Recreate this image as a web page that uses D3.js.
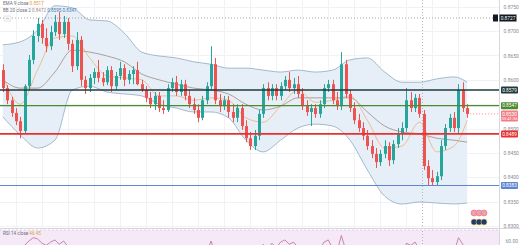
<!DOCTYPE html>
<html>
<head>
<meta charset="utf-8">
<script src="https://cdn.jsdelivr.net/npm/d3@7"></script>
<style>
  html, body { margin: 0; padding: 0; background: #fff; }
  svg { display: block; font-family: Roboto, "Liberation Sans", sans-serif; }
</style>
</head>
<body>
<div id="main"></div>
<script>
// daily candles, left to right
const opens = [
  .8620,.8583,.8558,.8532,.8515,.8495,.8587,.8641,.8690,.8715,
  .8686,.8669,.8698,.8719,.8694,.8719,.8674,.8628,.8682,.8600,
  .8583,.8604,.8616,.8604,.8595,.8620,.8587,.8608,.8624,.8600,
  .8612,.8620,.8591,.8579,.8563,.8550,.8567,.8542,.8538,.8583,
  .8595,.8575,.8591,.8567,.8550,.8538,.8522,.8558,.8587,.8632,
  .8558,.8546,.8558,.8534,.8522,.8542,.8505,.8480,.8464,.8485,
  .8530,.8583,.8567,.8583,.8567,.8587,.8600,.8583,.8591,.8571,
  .8546,.8534,.8542,.8530,.8550,.8583,.8591,.8558,.8546,.8632,
  .8571,.8542,.8517,.8501,.8485,.8464,.8448,.8431,.8448,.8464,
  .8435,.8468,.8489,.8501,.8558,.8542,.8563,.8530,.8423,.8398,
  .8390,.8402,.8464,.8501,.8522,.8501,.8579,.8542];
const highs = [
  .8632,.8589,.8565,.8542,.8524,.8591,.8651,.8702,.8727,.8723,
  .8706,.8711,.8733,.8739,.8731,.8727,.8682,.8698,.8690,.8608,
  .8612,.8624,.8641,.8616,.8628,.8628,.8616,.8637,.8632,.8620,
  .8628,.8637,.8600,.8587,.8575,.8575,.8575,.8558,.8591,.8604,
  .8608,.8600,.8600,.8579,.8563,.8550,.8567,.8595,.8669,.8645,
  .8571,.8567,.8567,.8550,.8550,.8550,.8517,.8493,.8497,.8538,
  .8591,.8595,.8591,.8591,.8595,.8608,.8616,.8604,.8608,.8583,
  .8558,.8550,.8550,.8558,.8591,.8600,.8600,.8575,.8657,.8641,
  .8579,.8554,.8530,.8513,.8497,.8476,.8460,.8456,.8476,.8472,
  .8476,.8501,.8513,.8583,.8575,.8571,.8571,.8538,.8435,.8415,
  .8411,.8476,.8509,.8530,.8534,.8591,.8595,.8550];
const lows = [
  .8575,.8550,.8524,.8507,.8480,.8489,.8579,.8632,.8678,.8674,
  .8657,.8661,.8690,.8682,.8686,.8661,.8616,.8620,.8587,.8571,
  .8575,.8591,.8595,.8587,.8589,.8575,.8579,.8600,.8587,.8591,
  .8591,.8589,.8575,.8554,.8542,.8538,.8534,.8530,.8534,.8575,
  .8567,.8567,.8558,.8542,.8530,.8513,.8517,.8550,.8579,.8550,
  .8534,.8538,.8522,.8513,.8513,.8497,.8472,.8456,.8456,.8476,
  .8522,.8558,.8558,.8558,.8558,.8579,.8575,.8571,.8563,.8538,
  .8526,.8505,.8522,.8522,.8542,.8575,.8550,.8538,.8538,.8563,
  .8534,.8509,.8493,.8476,.8456,.8439,.8419,.8423,.8439,.8423,
  .8427,.8460,.8476,.8493,.8534,.8534,.8522,.8415,.8382,.8382,
  .8382,.8394,.8456,.8493,.8493,.8489,.8534,.8522];
const closes = [
  .8583,.8558,.8532,.8515,.8495,.8587,.8641,.8690,.8715,.8686,
  .8669,.8698,.8719,.8694,.8719,.8674,.8628,.8682,.8600,.8583,
  .8604,.8616,.8604,.8595,.8620,.8587,.8608,.8624,.8600,.8612,
  .8620,.8591,.8579,.8563,.8550,.8567,.8542,.8538,.8583,.8595,
  .8575,.8591,.8567,.8550,.8538,.8522,.8558,.8587,.8632,.8558,
  .8546,.8558,.8534,.8522,.8542,.8505,.8480,.8464,.8485,.8530,
  .8583,.8567,.8583,.8567,.8587,.8600,.8583,.8591,.8571,.8546,
  .8534,.8542,.8530,.8550,.8583,.8591,.8558,.8546,.8632,.8571,
  .8542,.8517,.8501,.8485,.8464,.8448,.8431,.8448,.8464,.8435,
  .8468,.8489,.8501,.8558,.8542,.8563,.8530,.8423,.8398,.8390,
  .8402,.8464,.8501,.8522,.8501,.8579,.8542,.8530];

// indicator readings, taken every 4th candle
const bandIdx = [0,4,8,12,16,20,24,28,32,36,40,44,48,52,56,60,64,68,72,76,80,84,88,92,96,100,104,107];
const bbUpper = [.8672,.8678,.8702,.8752,.8748,.8723,.8721,.8696,.8657,.8649,.8645,.8637,.8632,.8624,
                 .8624,.8620,.8616,.8620,.8616,.8620,.8641,.8645,.8616,.8595,.8595,.8602,.8606,.8595];
const bbBasis = [.8600,.8583,.8583,.8616,.8661,.8657,.8649,.8637,.8612,.8600,.8591,.8583,.8579,.8571,
                 .8550,.8538,.8546,.8563,.8563,.8563,.8563,.8534,.8505,.8493,.8489,.8480,.8476,.8472];
const bbLower = [.8524,.8487,.8460,.8476,.8579,.8587,.8575,.8571,.8567,.8550,.8542,.8534,.8534,.8522,
                 .8476,.8452,.8476,.8501,.8509,.8505,.8476,.8415,.8361,.8345,.8349,.8347,.8345,.8347];
const maLine  = [.8608,.8550,.8620,.8686,.8690,.8645,.8608,.8604,.8600,.8567,.8567,.8558,.8563,.8558,
                 .8522,.8513,.8546,.8579,.8554,.8558,.8567,.8517,.8460,.8464,.8513,.8452,.8464,.8517];

const rsi = [50,45,40,37,33, 56,60,63,62,58,56, 59,61,57,60,55, 48,55,45,43,47,
  50,48,46,52,45,49,52,46,49, 51,45,42,40,38,43,38,37, 47,50,45,48,43,40,38,35,44,50,
  60, 47,44,46,42,40,44,37,33,31,36,45, 57,53,58,54,59,61,57,59,54, 48,45,
  47,45,52,59,61, 53,50, 65, 52,47,42,39,36,33,31,29,32,35,30,38,42,
  45,58,56,59, 52,35,31,30,33,44,50, 55,50,63,57,46.45];

const priceTicks = [0.8300,0.8350,0.8400,0.8450,0.8500,0.8550,0.8600,0.8650,0.8700,0.8750];
const levels = [0.8579, 0.8547, 0.8489, 0.8383];
const alertPrice = 0.8727;
const rsiTicks = [60];
const countdown = '03:41:36';

const W = 520, H = 245, axisX = 499, paneBottom = 228;

const svg = d3.select('#main').append('svg')
  .attr('width', W).attr('height', H);

svg.append('defs').append('clipPath').attr('id', 'mainClip')
  .append('rect').attr('x', 0).attr('y', 0).attr('width', axisX).attr('height', paneBottom);
svg.select('defs').append('clipPath').attr('id', 'rsiClip')
  .append('rect').attr('x', 0).attr('y', paneBottom + 1).attr('width', axisX).attr('height', H - paneBottom);

const x = d3.scaleBand().domain(d3.range(opens.length)).range([0, 470]).padding(0.3);
const cx = i => x(i) + x.bandwidth() / 2;
const y = d3.scaleLinear().domain([0.8300, 0.8750]).range([225.9, 6.8]);
const yr = d3.scaleLinear().domain([60, 70]).range([241, 230]);
const fmt = d3.format('.4f');

// grid
const grid = svg.append('g');
grid.selectAll('line.h').data(priceTicks).enter().append('line')
  .attr('x1', 0).attr('x2', axisX)
  .attr('y1', d => Math.round(y(d)) + 0.5).attr('y2', d => Math.round(y(d)) + 0.5)
  .attr('stroke', '#f0f2f5').attr('stroke-width', 1);
grid.selectAll('line.v').data(d3.range(3, opens.length, 6)).enter().append('line')
  .attr('x1', d => Math.round(cx(d)) + 0.5).attr('x2', d => Math.round(cx(d)) + 0.5)
  .attr('y1', 0).attr('y2', H)
  .attr('stroke', '#f0f2f5').attr('stroke-width', 1);

// RSI pane
const rsiG = svg.append('g').attr('clip-path', 'url(#rsiClip)');
rsiG.append('rect').attr('x', 0).attr('y', yr(70)).attr('width', axisX).attr('height', H - yr(70))
  .attr('fill', '#f5e8f7');
rsiG.append('line').attr('x1', 0).attr('x2', axisX).attr('y1', yr(70)).attr('y2', yr(70))
  .attr('stroke', '#d3b6de').attr('stroke-dasharray', '2,2').attr('stroke-width', 0.6);
rsiG.append('path').datum(rsi)
  .attr('d', d3.line().x((d, i) => cx(i)).y(d => yr(d)))
  .attr('fill', 'none').attr('stroke', '#c07aa8').attr('stroke-width', 0.9);

// main pane
const main = svg.append('g').attr('clip-path', 'url(#mainClip)');

const bandData = bandIdx.map((idx, k) => ({ idx, up: bbUpper[k], mid: bbBasis[k], lo: bbLower[k], ma: maLine[k] }));
main.append('path').datum(bandData)
  .attr('d', d3.area().curve(d3.curveMonotoneX)
    .x(d => cx(d.idx)).y0(d => y(d.lo)).y1(d => y(d.up)))
  .attr('fill', '#e6eff7');
[['up', '#8fa9bf'], ['lo', '#8fa9bf'], ['mid', '#9d8c82'], ['ma', '#eeb07a']].forEach(([k, c]) => {
  main.append('path').datum(bandData)
    .attr('d', d3.line().curve(d3.curveMonotoneX).x(d => cx(d.idx)).y(d => y(d[k])))
    .attr('fill', 'none').attr('stroke', c).attr('stroke-width', 0.8);
});

// alert line
main.append('line').attr('x1', 0).attr('x2', 493)
  .attr('y1', y(alertPrice)).attr('y2', y(alertPrice))
  .attr('stroke', '#8d9099').attr('stroke-width', 0.8).attr('stroke-dasharray', '1,2');

// session break
svg.append('line').attr('x1', 422.5).attr('x2', 422.5).attr('y1', 0).attr('y2', H)
  .attr('stroke', '#a3a6af').attr('stroke-width', 0.8).attr('stroke-dasharray', '1,2');

// candles
const up = '#26a69a', down = '#ef5350';
const candles = main.selectAll('g.c').data(d3.range(opens.length)).enter().append('g');
candles.append('line')
  .attr('x1', i => Math.round(cx(i)) + 0.5).attr('x2', i => Math.round(cx(i)) + 0.5)
  .attr('y1', i => y(highs[i])).attr('y2', i => y(lows[i]))
  .attr('stroke', i => closes[i] >= opens[i] ? up : down).attr('stroke-width', 1);
candles.append('rect')
  .attr('x', i => Math.round(cx(i)) - 1)
  .attr('width', 3)
  .attr('y', i => y(Math.max(opens[i], closes[i])))
  .attr('height', i => Math.max(1, Math.abs(y(opens[i]) - y(closes[i]))))
  .attr('fill', i => closes[i] >= opens[i] ? up : down);

// horizontal levels
const levelColors = ['#213a3c', '#4c8a2f', '#e8302f', '#5d86d0'];
const levelWidths = [1.6, 1.4, 1.8, 1.2];
levels.forEach((p, k) => {
  svg.append('line').attr('x1', 0).attr('x2', axisX).attr('y1', y(p)).attr('y2', y(p))
    .attr('stroke', levelColors[k]).attr('stroke-width', levelWidths[k]);
});

// last price dotted line
const last = closes.length - 1;
main.append('line').attr('x1', cx(last)).attr('x2', axisX)
  .attr('y1', y(closes[last])).attr('y2', y(closes[last]))
  .attr('stroke', down).attr('stroke-width', 0.7).attr('stroke-dasharray', '1,2');

// events markers
const ev = svg.append('g');
[474, 479, 484].forEach(px => {
  ev.append('circle').attr('cx', px).attr('cy', 213).attr('r', 3)
    .attr('fill', '#f2a0ad').attr('stroke', '#e26b80').attr('stroke-width', 0.6);
});
[474, 479, 484].forEach(px => {
  ev.append('circle').attr('cx', px).attr('cy', 222).attr('r', 3)
    .attr('fill', '#1f3a6b').attr('stroke', '#e9c24d').attr('stroke-width', 0.6);
});

// price axis
svg.append('rect').attr('x', axisX).attr('y', 0).attr('width', W - axisX).attr('height', H).attr('fill', '#fff');
svg.append('line').attr('x1', axisX + 0.5).attr('x2', axisX + 0.5).attr('y1', 0).attr('y2', H)
  .attr('stroke', '#d6d8de');
svg.append('line').attr('x1', 0).attr('x2', W).attr('y1', paneBottom + 0.5).attr('y2', paneBottom + 0.5)
  .attr('stroke', '#d6d8de');

// tick labels hidden where a price tag sits on top of them
const tagPrices = levels.concat([closes[last], alertPrice]);
const shownTicks = priceTicks.filter(t => tagPrices.every(p => Math.abs(y(p) - y(t)) > 4.5));
const axis = d3.axisRight(y).tickValues(shownTicks).tickFormat(fmt).tickSize(0).tickPadding(4);
const axG = svg.append('g').attr('transform', `translate(${axisX + 0.5},0)`).call(axis);
axG.select('.domain').remove();
axG.selectAll('text').attr('font-size', 5).attr('fill', '#8a8d96').attr('font-family', 'Roboto, sans-serif');

const rAxis = d3.axisRight(yr).tickValues(rsiTicks).tickFormat(d3.format('.2f')).tickSize(0).tickPadding(6);
const rG = svg.append('g').attr('transform', `translate(${axisX + 0.5},0)`).call(rAxis);
rG.select('.domain').remove();
rG.selectAll('text').attr('font-size', 5).attr('fill', '#8a8d96').attr('font-family', 'Roboto, sans-serif');

function priceTag(p, fill, text, extra) {
  const yy = y(p);
  svg.append('rect').attr('x', axisX + 2).attr('y', yy - 3.5).attr('width', 17).attr('height', extra ? 11 : 7)
    .attr('rx', 1).attr('fill', fill);
  svg.append('text').attr('x', axisX + 10.5).attr('y', yy + 1.8).attr('text-anchor', 'middle')
    .attr('font-size', 4.8).attr('fill', '#fff').text(text);
  if (extra) {
    svg.append('text').attr('x', axisX + 10.5).attr('y', yy + 6.3).attr('text-anchor', 'middle')
      .attr('font-size', 4.2).attr('fill', '#fff').text(extra);
  }
}
levels.forEach((p, k) => priceTag(p, levelColors[k], fmt(p)));
priceTag(closes[last], '#f27d84', fmt(closes[last]), countdown);

// alert tag
svg.append('rect').attr('x', 493).attr('y', y(alertPrice) - 3.5).attr('width', 5).attr('height', 7).attr('fill', '#131722');
svg.append('rect').attr('x', axisX + 0.5).attr('y', y(alertPrice) - 3.5).attr('width', 17).attr('height', 7).attr('fill', '#131722');
svg.append('text').attr('x', axisX + 9).attr('y', y(alertPrice) + 1.8).attr('text-anchor', 'middle')
  .attr('font-size', 4.8).attr('fill', '#fff').text(fmt(alertPrice));

// legends
const leg = svg.append('g').attr('font-size', 4.6);
const l1 = leg.append('text').attr('x', 3).attr('y', 5);
l1.append('tspan').attr('fill', '#6a6d78').text('EMA 9 close ');
l1.append('tspan').attr('fill', '#e8983b').text(fmt(maLine[maLine.length - 1]));
const l2 = leg.append('text').attr('x', 3).attr('y', 12);
l2.append('tspan').attr('fill', '#6a6d78').text('BB 20 close 2 ');
l2.append('tspan').attr('fill', '#a08c80').text(fmt(bbBasis[bbBasis.length - 1]) + ' ');
l2.append('tspan').attr('fill', '#4a78a8').text(fmt(bbUpper[bbUpper.length - 1]) + ' ');
l2.append('tspan').attr('fill', '#4a78a8').text(fmt(bbLower[bbLower.length - 1]));
leg.append('rect').attr('x', 4).attr('y', 16).attr('width', 7).attr('height', 5).attr('rx', 1)
  .attr('fill', '#fff').attr('stroke', '#c4c6cc').attr('stroke-width', 0.5);
leg.append('path').attr('d', 'M6,19.3 L7.5,17.8 L9,19.3').attr('fill', 'none').attr('stroke', '#555').attr('stroke-width', 0.5);
const l3 = leg.append('text').attr('x', 3).attr('y', 235);
l3.append('tspan').attr('fill', '#6a6d78').text('RSI 14 close ');
l3.append('tspan').attr('fill', '#d9a437').text(d3.format('.2f')(rsi[rsi.length - 1]));
</script>
</body>
</html>
